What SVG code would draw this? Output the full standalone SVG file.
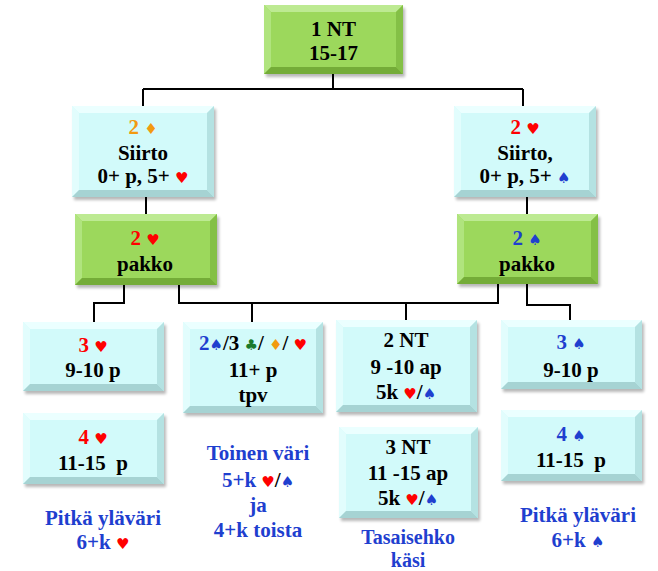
<svg xmlns="http://www.w3.org/2000/svg" width="658" height="571" viewBox="0 0 658 571">
<defs>
<filter id="sh" x="-10%" y="-10%" width="130%" height="140%"><feGaussianBlur stdDeviation="1.5"/></filter>
</defs>
<style>
text{font-family:"Liberation Serif","DejaVu Serif",serif;font-weight:bold;font-size:21px;text-anchor:middle;fill:#000}
.s{font-family:"DejaVu Sans",sans-serif;font-size:15px}
.r{fill:#ff0000}.b{fill:#1f3fcf}.o{fill:#f29a10}.g{fill:#1b7a2c}
.sm{font-size:20px}
.shadow{fill:#000;opacity:.28;filter:url(#sh)}
.cf{fill:#d2fafa}.ct{fill:#ebffff}.cl{fill:#e2fdfd}.cr{fill:#b4e2e2}.cb{fill:#a6d3d3}
.gf{fill:#9cd85c}.gt{fill:#bdea92}.gl{fill:#b0e47e}.gr{fill:#84c046}.gb{fill:#74ac38}
.conn{fill:none;stroke:#000;stroke-width:2}
</style>
<g id="connectors">
<path class="conn" d="M333,74V89M143,89H523M143,89V106M523,89V106"/>
<path class="conn" d="M146,197V214M527,197V214"/>
<path class="conn" d="M124,285V303H94V322"/>
<path class="conn" d="M179,285V303H498V284M252,303V322M406,303V320"/>
<path class="conn" d="M527,284V305H570V320"/>
</g>
<g id="n1nt">
<rect class="shadow" x="266" y="8" width="139" height="69"/>
<rect class="gf" x="264" y="5" width="139" height="69"/>
<polygon class="gt" points="264,5 403,5 396,12 271,12"/>
<polygon class="gl" points="264,5 271,12 271,67 264,74"/>
<polygon class="gr" points="403,5 403,74 396,67 396,12"/>
<polygon class="gb" points="264,74 403,74 396,67 271,67"/>
<text x="333.5" y="36">1 NT</text>
<text x="333.5" y="60">15-17</text>
</g>
<g id="n2d">
<rect class="shadow" x="74" y="109" width="142" height="91"/>
<rect class="cf" x="72" y="106" width="142" height="91"/>
<polygon class="ct" points="72,106 214,106 207,113 79,113"/>
<polygon class="cl" points="72,106 79,113 79,190 72,197"/>
<polygon class="cr" points="214,106 214,197 207,190 207,113"/>
<polygon class="cb" points="72,197 214,197 207,190 79,190"/>
<text x="143" y="134" class="o">2 <tspan class="s">♦</tspan></text>
<text x="143" y="160">Siirto</text>
<text x="143" y="183">0+ p, 5+ <tspan class="s r">♥</tspan></text>
</g>
<g id="n2h">
<rect class="shadow" x="456" y="109" width="142" height="91"/>
<rect class="cf" x="454" y="106" width="142" height="91"/>
<polygon class="ct" points="454,106 596,106 589,113 461,113"/>
<polygon class="cl" points="454,106 461,113 461,190 454,197"/>
<polygon class="cr" points="596,106 596,197 589,190 589,113"/>
<polygon class="cb" points="454,197 596,197 589,190 461,190"/>
<text x="525" y="134" class="r">2 <tspan class="s">♥</tspan></text>
<text x="525" y="160">Siirto,</text>
<text x="525" y="183">0+ p, 5+ <tspan class="s b">♠</tspan></text>
</g>
<g id="npakko1">
<rect class="shadow" x="77" y="217" width="142" height="71"/>
<rect class="gf" x="75" y="214" width="142" height="71"/>
<polygon class="gt" points="75,214 217,214 210,221 82,221"/>
<polygon class="gl" points="75,214 82,221 82,278 75,285"/>
<polygon class="gr" points="217,214 217,285 210,278 210,221"/>
<polygon class="gb" points="75,285 217,285 210,278 82,278"/>
<text x="145" y="245" class="r">2 <tspan class="s">♥</tspan></text>
<text x="145" y="271">pakko</text>
</g>
<g id="npakko2">
<rect class="shadow" x="459" y="217" width="141" height="70"/>
<rect class="gf" x="457" y="214" width="141" height="70"/>
<polygon class="gt" points="457,214 598,214 591,221 464,221"/>
<polygon class="gl" points="457,214 464,221 464,277 457,284"/>
<polygon class="gr" points="598,214 598,284 591,277 591,221"/>
<polygon class="gb" points="457,284 598,284 591,277 464,277"/>
<text x="527" y="245" class="b">2 <tspan class="s">♠</tspan></text>
<text x="527" y="271">pakko</text>
</g>
<g id="n3h">
<rect class="shadow" x="25" y="325" width="141" height="69"/>
<rect class="cf" x="23" y="322" width="141" height="69"/>
<polygon class="ct" points="23,322 164,322 157,329 30,329"/>
<polygon class="cl" points="23,322 30,329 30,384 23,391"/>
<polygon class="cr" points="164,322 164,391 157,384 157,329"/>
<polygon class="cb" points="23,391 164,391 157,384 30,384"/>
<text x="93" y="352" class="r">3 <tspan class="s">♥</tspan></text>
<text x="93" y="377">9-10 p</text>
</g>
<g id="n2s3c">
<rect class="shadow" x="185" y="325" width="140" height="91"/>
<rect class="cf" x="183" y="322" width="140" height="91"/>
<polygon class="ct" points="183,322 323,322 316,329 190,329"/>
<polygon class="cl" points="183,322 190,329 190,406 183,413"/>
<polygon class="cr" points="323,322 323,413 316,406 316,329"/>
<polygon class="cb" points="183,413 323,413 316,406 190,406"/>
<text x="253" y="350"><tspan class="b">2</tspan><tspan class="s b">♠</tspan>/3 <tspan class="s g">♣</tspan>/ <tspan class="s o">♦</tspan>/ <tspan class="s r">♥</tspan></text>
<text x="253" y="377">11+ p</text>
<text x="253" y="402">tpv</text>
</g>
<g id="n2nt">
<rect class="shadow" x="338" y="323" width="141" height="92"/>
<rect class="cf" x="336" y="320" width="141" height="92"/>
<polygon class="ct" points="336,320 477,320 470,327 343,327"/>
<polygon class="cl" points="336,320 343,327 343,405 336,412"/>
<polygon class="cr" points="477,320 477,412 470,405 470,327"/>
<polygon class="cb" points="336,412 477,412 470,405 343,405"/>
<text x="406" y="347">2 NT</text>
<text x="406" y="374">9 -10 ap</text>
<text x="406" y="399">5k <tspan class="s r">♥</tspan>/<tspan class="s b">♠</tspan></text>
</g>
<g id="n3s">
<rect class="shadow" x="503" y="323" width="141" height="69"/>
<rect class="cf" x="501" y="320" width="141" height="69"/>
<polygon class="ct" points="501,320 642,320 635,327 508,327"/>
<polygon class="cl" points="501,320 508,327 508,382 501,389"/>
<polygon class="cr" points="642,320 642,389 635,382 635,327"/>
<polygon class="cb" points="501,389 642,389 635,382 508,382"/>
<text x="571" y="349" class="b">3 <tspan class="s">♠</tspan></text>
<text x="571" y="377">9-10 p</text>
</g>
<g id="n4h">
<rect class="shadow" x="25" y="416" width="141" height="71"/>
<rect class="cf" x="23" y="413" width="141" height="71"/>
<polygon class="ct" points="23,413 164,413 157,420 30,420"/>
<polygon class="cl" points="23,413 30,420 30,477 23,484"/>
<polygon class="cr" points="164,413 164,484 157,477 157,420"/>
<polygon class="cb" points="23,484 164,484 157,477 30,477"/>
<text x="93" y="444" class="r">4 <tspan class="s">♥</tspan></text>
<text x="93" y="470" xml:space="preserve">11-15  p</text>
</g>
<g id="n3nt">
<rect class="shadow" x="341" y="430" width="139" height="91"/>
<rect class="cf" x="339" y="427" width="139" height="91"/>
<polygon class="ct" points="339,427 478,427 471,434 346,434"/>
<polygon class="cl" points="339,427 346,434 346,511 339,518"/>
<polygon class="cr" points="478,427 478,518 471,511 471,434"/>
<polygon class="cb" points="339,518 478,518 471,511 346,511"/>
<text x="408" y="454">3 NT</text>
<text x="408" y="480">11 -15 ap</text>
<text x="408" y="505">5k <tspan class="s r">♥</tspan>/<tspan class="s b">♠</tspan></text>
</g>
<g id="n4s">
<rect class="shadow" x="503" y="413" width="141" height="71"/>
<rect class="cf" x="501" y="410" width="141" height="71"/>
<polygon class="ct" points="501,410 642,410 635,417 508,417"/>
<polygon class="cl" points="501,410 508,417 508,474 501,481"/>
<polygon class="cr" points="642,410 642,481 635,474 635,417"/>
<polygon class="cb" points="501,481 642,481 635,474 508,474"/>
<text x="571" y="441" class="b">4 <tspan class="s">♠</tspan></text>
<text x="571" y="467" xml:space="preserve">11-15  p</text>
</g>
<g id="label-left">
<text x="103" y="525" class="b">Pitkä yläväri</text>
<text x="103" y="549" class="b">6+k <tspan class="s r">♥</tspan></text>
</g>
<g id="label-mid">
<text x="258" y="460" class="b">Toinen väri</text>
<text x="258" y="487" class="b">5+k <tspan class="s r">♥</tspan><tspan fill="#000">/</tspan><tspan class="s">♠</tspan></text>
<text x="258" y="512" class="b">ja</text>
<text x="258" y="537" class="b">4+k toista</text>
</g>
<g id="label-3nt">
<text x="408" y="544" class="b sm">Tasaisehko</text>
<text x="408" y="567" class="b sm">käsi</text>
</g>
<g id="label-right">
<text x="578" y="522" class="b">Pitkä yläväri</text>
<text x="578" y="547" class="b">6+k <tspan class="s">♠</tspan></text>
</g>
</svg>
